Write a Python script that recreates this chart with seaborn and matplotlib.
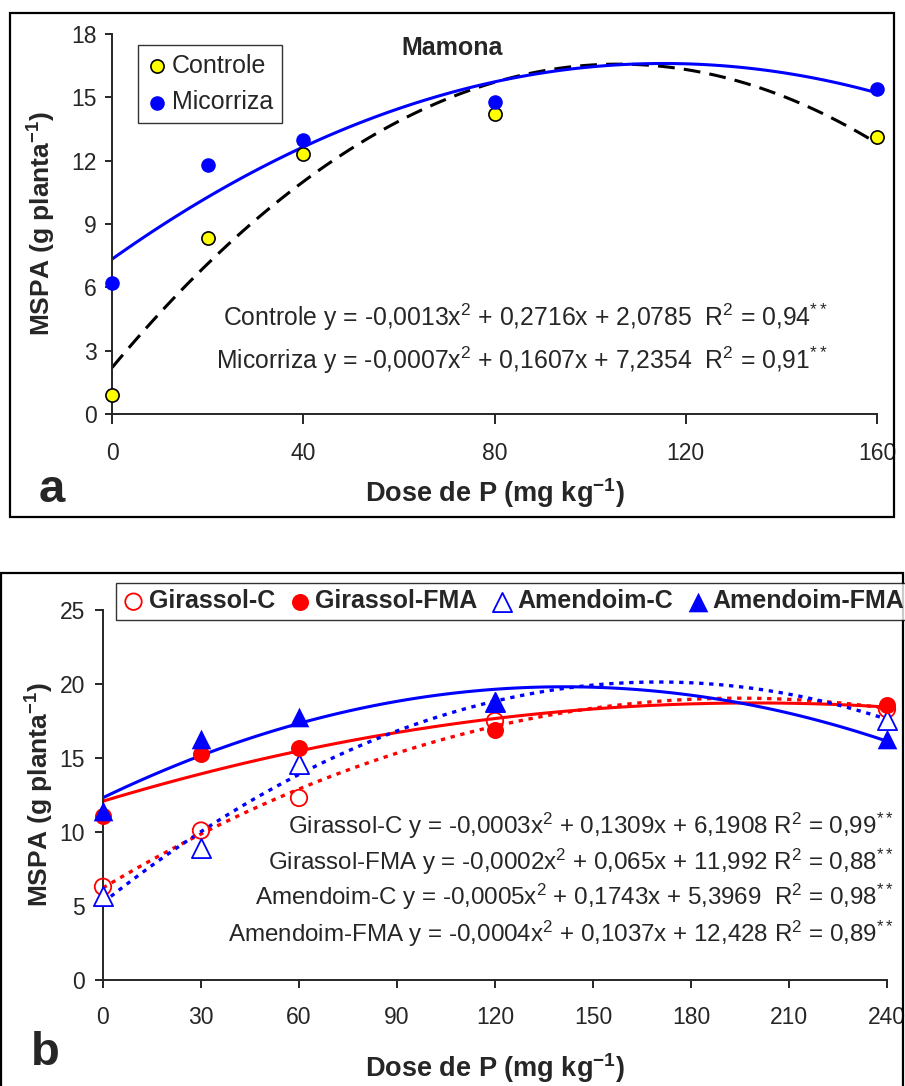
import numpy as np
import pandas as pd
import seaborn as sns
import matplotlib.pyplot as plt
from matplotlib.patches import Rectangle

# panel a - Mamona
dose_a = [0, 20, 40, 80, 160]
controle = [0.9, 8.35, 12.3, 14.2, 13.1]
micorriza = [6.2, 11.8, 13.0, 14.8, 15.4]

# panel b - Girassol / Amendoim
dose_b = [0, 30, 60, 120, 240]
girassol_c = [6.3, 10.1, 12.3, 17.5, 18.3]
girassol_fma = [11.1, 15.3, 15.7, 16.9, 18.6]
amendoim_c = [5.7, 8.9, 14.6, 18.8, 17.6]
amendoim_fma = [11.4, 16.3, 17.8, 18.8, 16.3]

eq_a = [r'Controle y = -0,0013x$^2$ + 0,2716x + 2,0785  R$^2$ = 0,94$^{**}$',
        r'Micorriza y = -0,0007x$^2$ + 0,1607x + 7,2354  R$^2$ = 0,91$^{**}$']
eq_b = [r'Girassol-C y = -0,0003x$^2$ + 0,1309x + 6,1908 R$^2$ = 0,99$^{**}$',
        r'Girassol-FMA y = -0,0002x$^2$ + 0,065x + 11,992 R$^2$ = 0,88$^{**}$',
        r'Amendoim-C y = -0,0005x$^2$ + 0,1743x + 5,3969  R$^2$ = 0,98$^{**}$',
        r'Amendoim-FMA y = -0,0004x$^2$ + 0,1037x + 12,428 R$^2$ = 0,89$^{**}$']

sns.set_style('ticks')
plt.rcParams['font.family'] = ['Liberation Sans', 'DejaVu Sans']
plt.rcParams['mathtext.fontset'] = 'custom'
plt.rcParams['mathtext.rm'] = 'Liberation Sans'
plt.rcParams['mathtext.it'] = 'Liberation Sans'
plt.rcParams['mathtext.bf'] = 'Liberation Sans:bold'

BLUE = '#0000FF'
RED = '#FF0000'
XLAB = r'Dose de P (mg kg$^{\mathbf{-1}}$)'
YLAB = r'MSPA (g planta$^{\mathbf{-1}}$)'

fig = plt.figure(figsize=(9.05, 10.86), dpi=100)

# outer frames
fig.patches.append(Rectangle((0.011, 0.524), 0.977, 0.464, transform=fig.transFigure,
                             fill=False, ec='black', lw=1.6))
fig.patches.append(Rectangle((0.001, -0.01), 0.997, 0.4824, transform=fig.transFigure,
                             fill=False, ec='black', lw=1.6))

# ---------------- panel a ----------------
ax = fig.add_axes([0.1238, 0.6188, 0.8453, 0.3499])
sns.regplot(x=dose_a, y=controle, order=2, ci=None, scatter=False, truncate=True,
            color='black', line_kws=dict(lw=2.2, ls=(0, (5.5, 3))), ax=ax)
sns.regplot(x=dose_a, y=micorriza, order=2, ci=None, scatter=False, truncate=True,
            color=BLUE, line_kws=dict(lw=2.2), ax=ax)
sns.scatterplot(x=dose_a, y=controle, marker='o', s=90, color='#FFFF00', edgecolor='black',
                linewidth=1.2, zorder=5, clip_on=False, label='Controle', ax=ax)
sns.scatterplot(x=dose_a, y=micorriza, marker='o', s=110, color=BLUE, edgecolor=BLUE,
                linewidth=0, zorder=5, clip_on=False, label='Micorriza', ax=ax)

ax.set_xlim(0, 160)
ax.set_ylim(0, 18)
ax.set_xticks([0, 40, 80, 120, 160])
ax.set_yticks([0, 3, 6, 9, 12, 15, 18])
sns.despine(ax=ax)
for s in ['left', 'bottom']:
    ax.spines[s].set_linewidth(1.4)
ax.tick_params(axis='x', length=7, width=1.4, pad=13, labelsize=16.5)
ax.tick_params(axis='y', length=5, width=1.4, pad=6, labelsize=16.5)
ax.set_xlabel(XLAB, fontsize=19.5, fontweight='bold', va='center')
ax.xaxis.set_label_coords(0.5, -0.208)
ax.set_ylabel(YLAB, fontsize=19, fontweight='bold', va='center')
ax.yaxis.set_label_coords(-0.092, 0.5)
ax.text(0.444, 0.963, 'Mamona', transform=ax.transAxes, ha='center', va='center',
        fontsize=18, fontweight='bold')
ax.text(0.936, 0.255, eq_a[0], transform=ax.transAxes, ha='right', va='center', fontsize=17.8)
ax.text(0.936, 0.142, eq_a[1], transform=ax.transAxes, ha='right', va='center', fontsize=17.8)
leg = ax.legend(loc='upper left', bbox_to_anchor=(0.034, 0.971), borderaxespad=0,
                fontsize=18, frameon=True, fancybox=False, handletextpad=0.2,
                handlelength=0.8, borderpad=0.35, labelspacing=0.5)
leg.get_frame().set_edgecolor('black')
leg.get_frame().set_linewidth(1.0)
fig.text(52 / 905, 1 - 490 / 1086, 'a', fontsize=34, fontweight='bold', ha='center', va='center')

# ---------------- panel b ----------------
bx = fig.add_axes([0.1138, 0.0976, 0.8663, 0.3407])
sns.regplot(x=dose_b, y=girassol_c, order=2, ci=None, scatter=False, truncate=True,
            color=RED, line_kws=dict(lw=2.4, ls=(0, (1.3, 1.7))), ax=bx)
sns.regplot(x=dose_b, y=girassol_fma, order=2, ci=None, scatter=False, truncate=True,
            color=RED, line_kws=dict(lw=2.2), ax=bx)
sns.regplot(x=dose_b, y=amendoim_c, order=2, ci=None, scatter=False, truncate=True,
            color=BLUE, line_kws=dict(lw=2.4, ls=(0, (1.3, 1.7))), ax=bx)
sns.regplot(x=dose_b, y=amendoim_fma, order=2, ci=None, scatter=False, truncate=True,
            color=BLUE, line_kws=dict(lw=2.2), ax=bx)

sns.scatterplot(x=dose_b, y=girassol_c, marker='o', s=140, color='none', edgecolor=RED,
                linewidth=1.3, zorder=5, clip_on=False, label='Girassol-C', ax=bx)
sns.scatterplot(x=dose_b, y=girassol_fma, marker='o', s=150, color=RED, edgecolor=RED,
                linewidth=0, zorder=6, clip_on=False, label='Girassol-FMA', ax=bx)
sns.scatterplot(x=dose_b, y=amendoim_c, marker='^', s=190, color='white', edgecolor=BLUE,
                linewidth=1.3, zorder=5, clip_on=False, label='Amendoim-C', ax=bx)
sns.scatterplot(x=dose_b, y=amendoim_fma, marker='^', s=200, color=BLUE, edgecolor=BLUE,
                linewidth=0, zorder=6, clip_on=False, label='Amendoim-FMA', ax=bx)

bx.set_xlim(0, 240)
bx.set_ylim(0, 25)
bx.set_xticks(np.arange(0, 241, 30))
bx.set_yticks([0, 5, 10, 15, 20, 25])
sns.despine(ax=bx)
for s in ['left', 'bottom']:
    bx.spines[s].set_linewidth(1.4)
bx.tick_params(axis='x', length=6, width=1.4, pad=13, labelsize=16.5)
bx.tick_params(axis='y', length=6, width=1.4, pad=7, labelsize=16.5)
bx.set_xlabel(XLAB, fontsize=19.5, fontweight='bold', va='center')
bx.xaxis.set_label_coords(0.5, -0.238)
bx.set_ylabel(YLAB, fontsize=19, fontweight='bold', va='center')
bx.yaxis.set_label_coords(-0.080, 0.5)
for txt, yy in zip(eq_b, [0.416, 0.319, 0.224, 0.124]):
    bx.text(1.009, yy, txt, transform=bx.transAxes, ha='right', va='center', fontsize=17.4)

if bx.legend_:
    bx.legend_.remove()
handles, labels = bx.get_legend_handles_labels()
leg_b = fig.legend(handles, labels, loc='upper left', bbox_to_anchor=(116 / 905, 1 - 583 / 1086),
                   ncol=4, prop={'weight': 'bold', 'size': 18}, frameon=True,
                   fancybox=False, handletextpad=0.15, handlelength=0.9, columnspacing=0.55,
                   borderpad=0.25, borderaxespad=0)
leg_b.get_frame().set_edgecolor('black')
leg_b.get_frame().set_linewidth(1.0)
fig.text(45 / 905, 1 - 1053 / 1086, 'b', fontsize=34, fontweight='bold', ha='center', va='center')

fig.savefig('out.png', dpi=100)
